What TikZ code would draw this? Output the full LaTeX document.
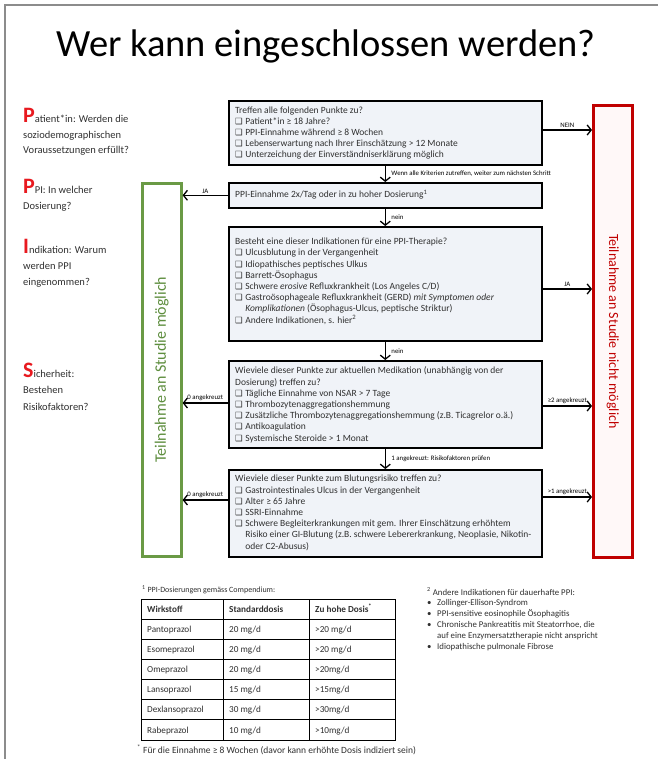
\documentclass[tikz,border=0pt]{standalone}
\usepackage{fontspec}
\setmainfont{Carlito}
\newfontfamily\dejavu{DejaVu Sans}
\usetikzlibrary{arrows.meta}
\definecolor{boxfill}{HTML}{F0F3F8}
\definecolor{darkred}{HTML}{C00000}
\definecolor{pinkfill}{HTML}{FFF8F8}
\definecolor{grn}{HTML}{6A9A45}
\definecolor{grntext}{HTML}{5E8E3E}
\definecolor{brightred}{HTML}{E8191F}
\definecolor{bordergray}{HTML}{8C8C8C}
\definecolor{txtgray}{HTML}{303030}
\newcommand{\cbx}{{\dejavu\fontsize{8.5}{8}\selectfont ❑}\hspace{2.5pt}}
\newcommand{\ind}{\hphantom{\cbx}}
\newcommand{\initial}[1]{{\color{brightred}\fontsize{22}{15}\selectfont\bfseries #1}}
\begin{document}
\begin{tikzpicture}[x=1pt,y=-1pt,
  flowbox/.style={draw=black, line width=1.6pt, fill=boxfill, anchor=north west, minimum width=313pt},
  arr/.style={line width=1.3pt, -{Straight Barb[length=4pt,width=10pt,line width=1.3pt]}},
  lbl/.style={font=\fontsize{6.8}{7}\selectfont, inner sep=1.5pt},
  boxtxt/.style={anchor=base west, align=left, font=\fontsize{9.5}{11.2}\selectfont, inner sep=0pt, text=txtgray},
  lefttxt/.style={anchor=base west, align=left, font=\fontsize{10.5}{15.5}\selectfont, inner sep=0pt, text=txtgray},
  tcell/.style={anchor=base west, font=\fontsize{9.2}{10}\selectfont, inner sep=0pt, text=txtgray},
  thead/.style={tcell, font=\fontsize{9.2}{10}\selectfont\bfseries}
]
\useasboundingbox (0,0) rectangle (658,759);
\fill[white] (0,0) rectangle (658,759);
% slide border
\draw[bordergray, line width=1.5pt] (5,759) -- (5,5) -- (658,5);

% title
\node[anchor=base west, inner sep=0pt, font=\fontsize{38.5}{40}\selectfont] (title) at (56,57) {Wer kann eingeschlossen werden?};

% left column (anchor = baseline of last line)
\node[lefttxt] (lp1) at (23,154) {\initial{P}atient*in: Werden die\\soziodemographischen\\Voraussetzungen erfüllt?};
\node[lefttxt, font=\fontsize{10.5}{17}\selectfont] (lp2) at (23,210) {\initial{P}PI: In welcher\\Dosierung?};
\node[lefttxt, font=\fontsize{10.5}{16}\selectfont] (lp3) at (23,285) {\initial{I}ndikation: Warum\\werden PPI\\eingenommen?};
\node[lefttxt, font=\fontsize{10.5}{16.5}\selectfont] (lp4) at (23,410) {\initial{S}icherheit:\\Bestehen\\Risikofaktoren?};

% side boxes
\node[draw=grn, line width=2.6pt, fill=white, anchor=north west, minimum width=39pt, minimum height=373pt] (green) at (141,182) {};
\node[rotate=90, text=grntext, font=\fontsize{16}{16}\selectfont] (gt) at (green.center) {Teilnahme an Studie möglich};
\node[draw=darkred, line width=2.6pt, fill=pinkfill, anchor=north west, minimum width=39pt, minimum height=452pt] (red) at (592,104) {};
\node[rotate=-90, text=darkred, font=\fontsize{14}{14}\selectfont] (rt) at (red.center) {Teilnahme an Studie nicht möglich};

% flow boxes
\node[flowbox, minimum height=64pt] (b1) at (228,100) {};
\node[flowbox, minimum height=25pt] (b2) at (228,182) {};
\node[flowbox, minimum height=114pt] (b3) at (228,226) {};
\node[flowbox, minimum height=87pt] (b4) at (228,360) {};
\node[flowbox, minimum height=87pt] (b5) at (228,469) {};

\node[boxtxt] (t1) at (235,158) {Treffen alle folgenden Punkte zu?\\
\cbx Patient*in ≥ 18 Jahre?\\
\cbx PPI-Einnahme während ≥ 8 Wochen\\
\cbx Lebenserwartung nach Ihrer Einschätzung > 12 Monate\\
\cbx Unterzeichung der Einverständniserklärung möglich};

\node[boxtxt] (t2) at (235,198) {PPI-Einnahme 2x/Tag oder in zu hoher Dosierung\textsuperscript{1}};

\node[boxtxt] (t3) at (235,323) {Besteht eine dieser Indikationen für eine PPI-Therapie?\\
\cbx Ulcusblutung in der Vergangenheit\\
\cbx Idiopathisches peptisches Ulkus\\
\cbx Barrett-Ösophagus\\
\cbx Schwere \textit{erosive} Refluxkrankheit (Los Angeles C/D)\\
\cbx Gastroösophageale Refluxkrankheit (GERD) \textit{mit Symptomen oder}\\
\ind\textit{Komplikationen} (Ösophagus-Ulcus, peptische Striktur)\\
\cbx Andere Indikationen, s. hier\textsuperscript{2}};

\node[boxtxt] (t4) at (235,441) {Wieviele dieser Punkte zur aktuellen Medikation (unabhängig von der\\
Dosierung) treffen zu?\\
\cbx Tägliche Einnahme von NSAR > 7 Tage\\
\cbx Thrombozytenaggregationshemmung\\
\cbx Zusätzliche Thrombozytenaggregationshemmung (z.B. Ticagrelor o.ä.)\\
\cbx Antikoagulation\\
\cbx Systemische Steroide > 1 Monat};

\node[boxtxt] (t5) at (235,549) {Wieviele dieser Punkte zum Blutungsrisiko treffen zu?\\
\cbx Gastrointestinales Ulcus in der Vergangenheit\\
\cbx Alter ≥ 65 Jahre\\
\cbx SSRI-Einnahme\\
\cbx Schwere Begleiterkrankungen mit gem. Ihrer Einschätzung erhöhtem\\
\ind Risiko einer GI-Blutung (z.B. schwere Lebererkrankung, Neoplasie, Nikotin-\\
\ind oder C2-Abusus)};

% down arrows
\draw[arr] (b1.south) -- node[lbl, right, xshift=4pt] {Wenn alle Kriterien zutreffen, weiter zum nächsten Schritt} (b2.north);
\draw[arr] (b2.south) -- node[lbl, right, xshift=4pt] {nein} (b3.north);
\draw[arr] (b3.south) -- node[lbl, right, xshift=4pt] {nein} (b4.north);
\draw[arr] (b4.south) -- node[lbl, right, xshift=4pt] {1 angekreuzt: Risikofaktoren prüfen} (b5.north);

% right arrows
\draw[arr] (b1.east |- 0,130) -- node[lbl, above] {NEIN} (red.west |- 0,130);
\draw[arr] (b3.east |- 0,289) -- node[lbl, above] {JA} (red.west |- 0,289);
\draw[arr] (b4.east |- 0,406) -- node[lbl, above] {≥2 angekreuzt} (red.west |- 0,406);
\draw[arr] (b5.east |- 0,497) -- node[lbl, above] {>1 angekreuzt} (red.west |- 0,497);

% left arrows
\draw[arr] (b2.west) -- node[lbl, above] {JA} (green.east |- b2.west);
\draw[arr] (b4.west |- 0,403) -- node[lbl, above] {0 angekreuzt} (green.east |- 0,403);
\draw[arr] (b5.west |- 0,500) -- node[lbl, above] {0 angekreuzt} (green.east |- 0,500);

% footnote 1 and table
\node[anchor=base west, inner sep=0pt, font=\fontsize{8}{9}\selectfont, text=txtgray] (fn1) at (142,592) {\textsuperscript{1} PPI-Dosierungen gemäss Compendium:};
\draw[black, line width=0.9pt] (141,599) rectangle (395,740);
\foreach \yy in {619,639,659,679,699,719} \draw[black, line width=0.9pt] (141,\yy) -- (395,\yy);
\foreach \xx in {223,309} \draw[black, line width=0.9pt] (\xx,599) -- (\xx,740);
\node[thead] (h1) at (147,612) {Wirkstoff};
\node[thead] (h2) at (229,612) {Standarddosis};
\node[thead] (h3) at (315,612) {Zu hohe Dosis\textsuperscript{*}};
\node[tcell] (r1a) at (147,632) {Pantoprazol};
\node[tcell] (r1b) at (229,632) {20 mg/d};
\node[tcell] (r1c) at (315,632) {>20 mg/d};
\node[tcell] (r2a) at (147,652) {Esomeprazol};
\node[tcell] (r2b) at (229,652) {20 mg/d};
\node[tcell] (r2c) at (315,652) {>20 mg/d};
\node[tcell] (r3a) at (147,672) {Omeprazol};
\node[tcell] (r3b) at (229,672) {20 mg/d};
\node[tcell] (r3c) at (315,672) {>20mg/d};
\node[tcell] (r4a) at (147,692) {Lansoprazol};
\node[tcell] (r4b) at (229,692) {15 mg/d};
\node[tcell] (r4c) at (315,692) {>15mg/d};
\node[tcell] (r5a) at (147,712) {Dexlansoprazol};
\node[tcell] (r5b) at (229,712) {30 mg/d};
\node[tcell] (r5c) at (315,712) {>30mg/d};
\node[tcell] (r6a) at (147,733) {Rabeprazol};
\node[tcell] (r6b) at (229,733) {10 mg/d};
\node[tcell] (r6c) at (315,733) {>10mg/d};
\node[anchor=base west, inner sep=0pt, font=\fontsize{9.5}{10}\selectfont, text=txtgray] (fn1b) at (137,753) {\textsuperscript{*} Für die Einnahme ≥ 8 Wochen (davor kann erhöhte Dosis indiziert sein)};

% footnote 2
\node[anchor=base west, align=left, inner sep=0pt, font=\fontsize{8.8}{10.8}\selectfont, text=txtgray] (fn2) at (427,649) {\textsuperscript{2} Andere Indikationen für dauerhafte PPI:\\
\makebox[10pt][l]{•}Zollinger-Ellison-Syndrom\\
\makebox[10pt][l]{•}PPI-sensitive eosinophile Ösophagitis\\
\makebox[10pt][l]{•}Chronische Pankreatitis mit Steatorrhoe, die\\
\makebox[10pt][l]{}auf eine Enzymersatztherapie nicht anspricht\\
\makebox[10pt][l]{•}Idiopathische pulmonale Fibrose};
\end{tikzpicture}
\end{document}
